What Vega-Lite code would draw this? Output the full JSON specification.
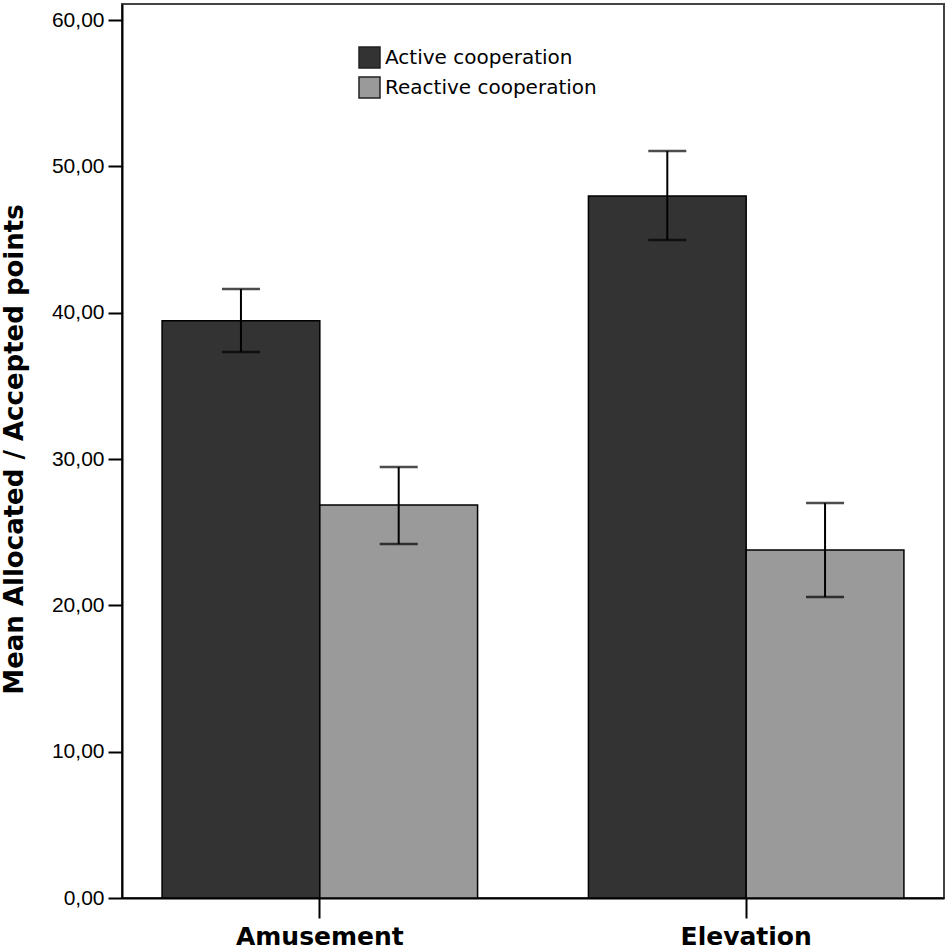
{
  "$schema": "https://vega.github.io/schema/vega-lite/v6.json",
  "width": 822,
  "height": 894,
  "autosize": {"type": "none"},
  "padding": {"left": 122, "top": 4, "right": 6, "bottom": 54},
  "background": "white",
  "data": {
    "values": [
      {"emotion": "Amusement", "group": "Active cooperation", "mean": 39.45, "upper": 41.62, "lower": 37.31},
      {"emotion": "Amusement", "group": "Reactive cooperation", "mean": 26.86, "upper": 29.45, "lower": 24.19},
      {"emotion": "Elevation", "group": "Active cooperation", "mean": 47.97, "upper": 51.05, "lower": 44.97},
      {"emotion": "Elevation", "group": "Reactive cooperation", "mean": 23.78, "upper": 26.99, "lower": 20.57}
    ]
  },
  "encoding": {
    "x": {
      "field": "emotion",
      "type": "nominal",
      "scale": {"paddingInner": 0.26, "paddingOuter": 0.094},
      "axis": {
        "title": null,
        "labelAngle": 0,
        "labelFont": "DejaVu Sans",
        "labelFontWeight": "bold",
        "labelFontSize": 25,
        "labelColor": "black",
        "labelBaseline": "alphabetic",
        "labelPadding": 26,
        "tickSize": 20,
        "tickWidth": 2,
        "tickColor": "black",
        "domainColor": "black",
        "domainWidth": 2
      }
    },
    "xOffset": {
      "field": "group",
      "type": "nominal",
      "scale": {"paddingInner": 0, "paddingOuter": 0}
    }
  },
  "layer": [
    {
      "mark": {"type": "bar", "stroke": "black", "strokeWidth": 1.5},
      "encoding": {
        "y": {
          "field": "mean",
          "type": "quantitative",
          "scale": {"domain": [0, 61.1], "nice": false},
          "axis": {
            "title": "Mean Allocated / Accepted points",
            "titleFont": "DejaVu Sans",
            "titleFontWeight": "bold",
            "titleFontSize": 26,
            "titleColor": "black",
            "titleAngle": -90,
            "titleX": -100,
            "titleY": 445,
            "titleAlign": "center",
            "titleBaseline": "alphabetic",
            "values": [0, 10, 20, 30, 40, 50, 60],
            "labelExpr": "replace(format(datum.value, '.2f'), '.', ',')",
            "labelFont": "Liberation Sans",
            "labelFontSize": 21,
            "labelColor": "black",
            "labelPadding": 4,
            "tickSize": 14,
            "tickWidth": 2,
            "tickColor": "black",
            "domainColor": "black",
            "domainWidth": 2,
            "grid": false
          }
        },
        "color": {
          "field": "group",
          "type": "nominal",
          "scale": {
            "domain": ["Active cooperation", "Reactive cooperation"],
            "range": ["#333333", "#9a9a9a"]
          },
          "legend": {
            "title": null,
            "orient": "none",
            "legendX": 236,
            "legendY": 42,
            "padding": 0,
            "symbolType": "square",
            "symbolSize": 441,
            "symbolStrokeColor": "#222222",
            "symbolStrokeWidth": 1.5,
            "symbolOffset": 0,
            "labelOffset": 4,
            "labelLimit": 400,
            "labelFont": "DejaVu Sans",
            "labelFontSize": 20,
            "labelColor": "black",
            "rowPadding": 3
          }
        }
      }
    },
    {
      "mark": {"type": "rule", "color": "black", "strokeWidth": 2},
      "encoding": {
        "y": {"field": "lower", "type": "quantitative"},
        "y2": {"field": "upper"}
      }
    },
    {
      "mark": {"type": "tick", "color": "black", "size": 38, "thickness": 2.5},
      "encoding": {
        "y": {"field": "upper", "type": "quantitative"}
      }
    },
    {
      "mark": {"type": "tick", "color": "black", "size": 38, "thickness": 2.5},
      "encoding": {
        "y": {"field": "lower", "type": "quantitative"}
      }
    }
  ],
  "config": {
    "view": {"stroke": "#444444", "strokeWidth": 2}
  }
}
